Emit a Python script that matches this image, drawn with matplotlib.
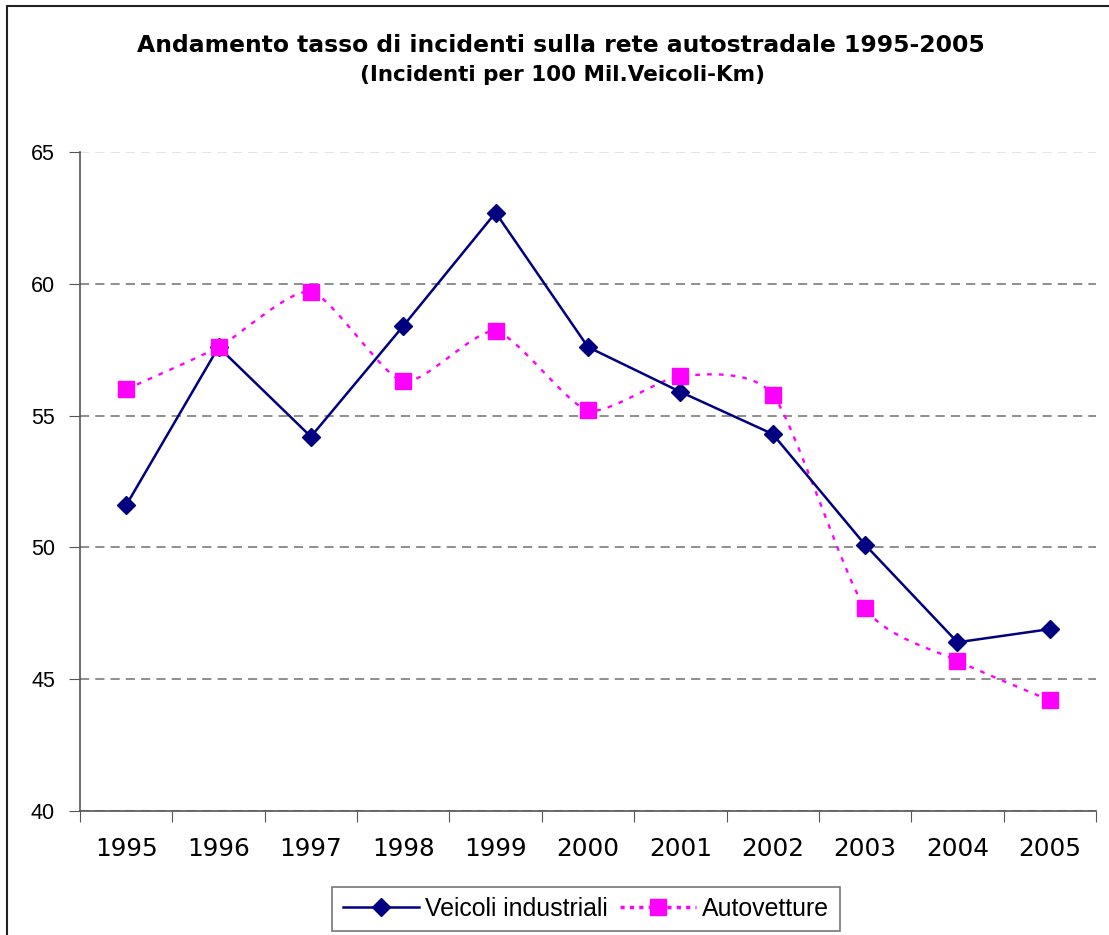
import numpy as np
import matplotlib
matplotlib.use("Agg")
import matplotlib.pyplot as plt
from matplotlib.path import Path
from matplotlib.patches import PathPatch, Rectangle
from matplotlib.lines import Line2D

years = ["1995", "1996", "1997", "1998", "1999", "2000",
         "2001", "2002", "2003", "2004", "2005"]
veicoli_industriali = [51.6, 57.6, 54.2, 58.4, 62.7, 57.6, 55.9, 54.3, 50.1, 46.4, 46.9]
autovetture = [56.0, 57.6, 59.7, 56.3, 58.2, 55.2, 56.5, 55.8, 47.7, 45.7, 44.2]

NAVY = "#000080"
MAGENTA = "#FF00FF"


def smooth_path(xs, ys, k=1 / 9):
    # smoothed line like Excel: cubic Bezier segments between the points
    pts = np.column_stack([xs, ys]).astype(float)
    n = len(pts)
    verts = [pts[0]]
    codes = [Path.MOVETO]
    for i in range(n - 1):
        p0 = pts[i - 1] if i > 0 else pts[i]
        p1 = pts[i]
        p2 = pts[i + 1]
        p3 = pts[i + 2] if i + 2 < n else pts[i + 1]
        c1 = p1 + (p2 - p0) * k
        c2 = p2 - (p3 - p1) * k
        verts += [c1, c2, p2]
        codes += [Path.CURVE4] * 3
    return Path(verts, codes)


fig = plt.figure(figsize=(11.09, 9.35), dpi=100)
W, H = 1109, 935
ax = fig.add_axes([80 / W, (H - 811) / H, (1096 - 80) / W, (811 - 152) / H])

x = np.arange(len(years))

# Veicoli industriali
ax.plot(x, veicoli_industriali, color=NAVY, lw=1.8, marker="D", ms=9.5,
        mfc=NAVY, mec=NAVY, zorder=4)

# Autovetture (smoothed dotted)
patch = PathPatch(smooth_path(x, autovetture), fill=False, ec=MAGENTA, lw=1.7,
                  linestyle=(0, (2, 3)), zorder=3)
ax.add_patch(patch)
ax.plot(x, autovetture, ls="none", marker="s", ms=11, mfc=MAGENTA, mec=MAGENTA, zorder=5)

ax.set_xlim(-0.5, len(years) - 0.5)
ax.set_ylim(40, 65)

# x axis: tick marks on category boundaries, labels centered
ax.set_xticks(np.arange(-0.5, len(years), 1.0))
ax.set_xticklabels([])
ax.set_xticks(x, minor=True)
ax.set_xticklabels(years, minor=True, fontsize=17.8, family="DejaVu Sans")
ax.tick_params(axis="x", which="major", direction="out", length=8, color="#555555")
ax.tick_params(axis="x", which="minor", length=0, pad=19)

ax.set_yticks(np.arange(40, 66, 5))
ax.set_yticklabels([str(v) for v in range(40, 66, 5)], fontsize=15.5,
                   family="Liberation Sans")
ax.tick_params(axis="y", direction="out", length=8, color="#555555", pad=10)

ax.yaxis.grid(True, color="#707070", lw=1.1, linestyle=(0, (6, 4)))
for tick in ax.yaxis.get_major_ticks():
    if tick.get_loc() == 65:
        tick.gridline.set_color("#dddddd")
ax.set_axisbelow(True)

for s in ["top", "right"]:
    ax.spines[s].set_visible(False)
for s in ["left", "bottom"]:
    ax.spines[s].set_color("#555555")
    ax.spines[s].set_linewidth(1.2)

fig.text(561 / W, 1 - 45 / H, "Andamento tasso di incidenti sulla rete autostradale 1995-2005",
         ha="center", va="center", fontsize=16.9, fontweight="bold", family="DejaVu Sans")
fig.text(562 / W, 1 - 75 / H, "(Incidenti per 100 Mil.Veicoli-Km)",
         ha="center", va="center", fontsize=15.5, fontweight="bold", family="DejaVu Sans")

handles = [
    Line2D([], [], color=NAVY, lw=1.8, marker="D", ms=9.5, mfc=NAVY, mec=NAVY),
    Line2D([], [], color=MAGENTA, lw=2.5, linestyle=(0, (1.2, 1.5)), marker="s", ms=11,
           mfc=MAGENTA, mec=MAGENTA),
]
leg = fig.legend(handles, ["Veicoli industriali", "Autovetture"], loc="center",
                 bbox_to_anchor=(586 / W, 1 - 909 / H), ncol=2, frameon=True,
                 fancybox=False, handlelength=3.05, handletextpad=0.25, columnspacing=0.5,
                 borderpad=0.42, borderaxespad=0,
                 prop={"family": "Liberation Sans", "size": 17.9})
leg.get_frame().set_edgecolor("#555555")
leg.get_frame().set_linewidth(1.2)

fig.patches.append(Rectangle((7 / W, -0.1), 1.2, 1.1 - 6 / H, transform=fig.transFigure,
                             fill=False, ec="#222222", lw=1.5, zorder=0))

fig.savefig("out.png", dpi=100)
